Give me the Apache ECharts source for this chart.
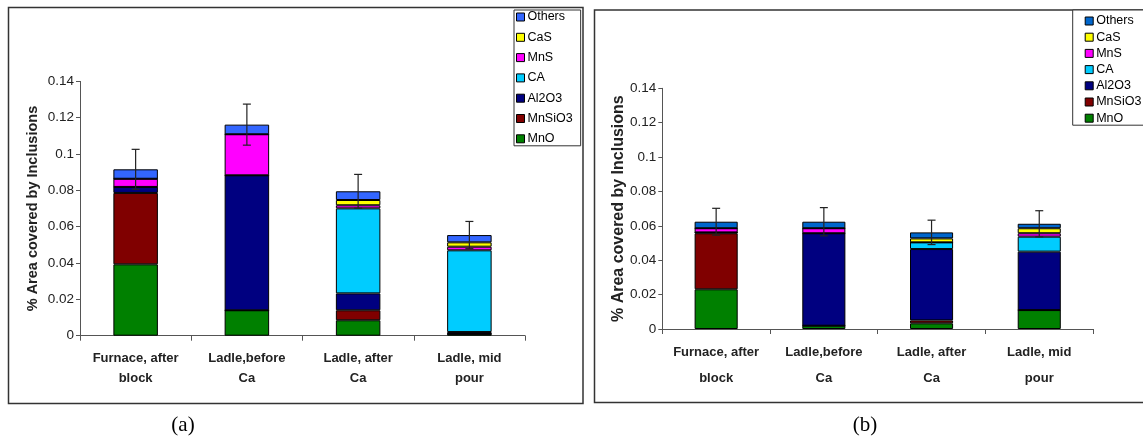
<!DOCTYPE html>
<html>
<head>
<meta charset="utf-8">
<script src="https://cdn.jsdelivr.net/npm/echarts@6/dist/echarts.min.js"></script>
<style>
  html, body { margin: 0; padding: 0; background: #fff; }
  #chart { width: 1143px; height: 442px; }
</style>
</head>
<body>
<div id="chart"></div>
<script>
// Sampling stages (x categories), shared by both panels
const categories = ['Furnace, after\nblock', 'Ladle,before\nCa', 'Ladle, after\nCa', 'Ladle, mid\npour'];
// Inclusion phases, bottom of the stack first
const phases = ['MnO', 'MnSiO3', 'Al2O3', 'CA', 'MnS', 'CaS', 'Others'];
const yTicks = [0, 0.02, 0.04, 0.06, 0.08, 0.1, 0.12, 0.14];

// Panel (a): % area covered by each inclusion type
const aMnO    = [0.0393, 0.0140, 0.0085, 0.0010];
const aMnSiO3 = [0.0393, 0.0000, 0.0055, 0.0000];
const aAl2O3  = [0.0033, 0.0743, 0.0093, 0.0010];
const aCA     = [0.0000, 0.0000, 0.0468, 0.0450];
const aMnS    = [0.0045, 0.0226, 0.0017, 0.0020];
const aCaS    = [0.0000, 0.0000, 0.0029, 0.0024];
const aOthers = [0.0052, 0.0053, 0.0048, 0.0040];
const aError  = [0.0110, 0.0113, 0.0093, 0.0075];

// Panel (b)
const bMnO    = [0.0231, 0.0019, 0.0033, 0.0110];
const bMnSiO3 = [0.0326, 0.0000, 0.0017, 0.0000];
const bAl2O3  = [0.0005, 0.0538, 0.0415, 0.0340];
const bCA     = [0.0000, 0.0000, 0.0039, 0.0087];
const bMnS    = [0.0024, 0.0029, 0.0000, 0.0020];
const bCaS    = [0.0000, 0.0000, 0.0023, 0.0029];
const bOthers = [0.0038, 0.0038, 0.0035, 0.0026];
const bError  = [0.0078, 0.0082, 0.0071, 0.0076];

const panelA = { MnO: aMnO, MnSiO3: aMnSiO3, Al2O3: aAl2O3, CA: aCA, MnS: aMnS, CaS: aCaS, Others: aOthers };
const panelB = { MnO: bMnO, MnSiO3: bMnSiO3, Al2O3: bAl2O3, CA: bCA, MnS: bMnS, CaS: bCaS, Others: bOthers };

const colorsA = { MnO: '#008000', MnSiO3: '#800000', Al2O3: '#000080', CA: '#00CCFF', MnS: '#FF00FF', CaS: '#FFFF00', Others: '#3366FF' };
const colorsB = Object.assign({}, colorsA, { Others: '#0066CC' });

const FONT = '"Liberation Sans", Arial, sans-serif';

function totals(panel) {
  return categories.map((_, i) => phases.reduce((s, p) => s + panel[p][i], 0));
}

function barSeries(panel, colors, idx, stack) {
  return phases.map(p => ({
    name: p,
    type: 'bar',
    stack: stack,
    xAxisIndex: idx,
    yAxisIndex: idx,
    barWidth: '40%',
    itemStyle: { color: colors[p], borderColor: '#000', borderWidth: 1 },
    emphasis: { disabled: true },
    data: panel[p]
  }));
}

function errorRender(params, api) {
  const x = api.value(0);
  const hi = api.coord([x, api.value(1)]);
  const lo = api.coord([x, api.value(2)]);
  const w = 4;
  const style = { stroke: '#222', lineWidth: 1.2 };
  return {
    type: 'group',
    children: [
      { type: 'line', shape: { x1: hi[0], y1: hi[1], x2: lo[0], y2: lo[1] }, style: style },
      { type: 'line', shape: { x1: hi[0] - w, y1: hi[1], x2: hi[0] + w, y2: hi[1] }, style: style },
      { type: 'line', shape: { x1: lo[0] - w, y1: lo[1], x2: lo[0] + w, y2: lo[1] }, style: style }
    ]
  };
}

function errorSeries(panel, err, idx) {
  const t = totals(panel);
  return {
    type: 'custom',
    xAxisIndex: idx,
    yAxisIndex: idx,
    z: 10,
    silent: true,
    renderItem: errorRender,
    encode: { x: 0, y: [1, 2] },
    data: t.map((v, i) => [i, v + err[i], v - err[i]])
  };
}

function xAxis(idx, lineHeight, margin) {
  return {
    type: 'category',
    gridIndex: idx,
    data: categories,
    axisLine: { lineStyle: { color: '#555', width: 1 } },
    axisTick: { show: true, length: 5, lineStyle: { color: '#555' } },
    axisLabel: {
      interval: 0, margin: margin, color: '#222',
      fontFamily: FONT, fontWeight: 'bold', fontSize: 13, lineHeight: lineHeight
    },
    splitLine: { show: false }
  };
}

function yAxis(idx, nameGap, nameSize) {
  return {
    type: 'value',
    gridIndex: idx,
    min: yTicks[0],
    max: yTicks[yTicks.length - 1],
    interval: yTicks[1] - yTicks[0],
    name: '% Area covered by Inclusions',
    nameLocation: 'middle',
    nameGap: nameGap,
    nameTextStyle: { fontFamily: FONT, fontWeight: 'bold', fontSize: nameSize, color: '#222' },
    axisLine: { show: true, lineStyle: { color: '#555', width: 1 } },
    axisTick: { show: true, length: 4, lineStyle: { color: '#555' } },
    axisLabel: {
      margin: 6, color: '#222', fontFamily: FONT, fontSize: 13.5,
      formatter: v => String(+v.toFixed(2))
    },
    splitLine: { show: false }
  };
}

function legend(colors, left, top, gap, padding) {
  return {
    orient: 'vertical',
    left: left,
    top: top,
    itemWidth: 8,
    itemHeight: 8,
    itemGap: gap,
    padding: padding,
    selectedMode: false,
    backgroundColor: '#fff',
    borderColor: '#333',
    borderWidth: 1,
    textStyle: { fontFamily: FONT, fontSize: 12.5, color: '#000', lineHeight: 14, padding: [0, 0, 0, -2] },
    data: phases.slice().reverse().map(p => ({
      name: p,
      icon: 'rect',
      itemStyle: { color: colors[p], borderColor: '#000', borderWidth: 1 }
    }))
  };
}

const chart = echarts.init(document.getElementById('chart'), null, { renderer: 'canvas' });

chart.setOption({
  animation: false,
  backgroundColor: '#fff',
  grid: [
    { left: 80, top: 81.4, width: 445, height: 254.3 },
    { left: 662.3, top: 88.3, width: 430.8, height: 240.7 }
  ],
  xAxis: [xAxis(0, 20, 13), xAxis(1, 26, 10)],
  yAxis: [yAxis(0, 40, 14.5), yAxis(1, 33, 16)],
  legend: [
    legend(colorsA, 514, 10, 6.3, [0, 8, 0, 2]),
    legend(colorsB, 1072.7, 10, 2.2, [4, 20, 0, 12])
  ],
  graphic: [
    { type: 'rect', shape: { x: 8.5, y: 7.5, width: 574.5, height: 396 }, style: { fill: null, stroke: '#333', lineWidth: 1.5 }, z: -1, silent: true },
    { type: 'rect', shape: { x: 594.5, y: 10, width: 570, height: 392.5 }, style: { fill: null, stroke: '#333', lineWidth: 1.5 }, z: -1, silent: true },
    { type: 'text', x: 183, y: 425, style: { text: '(a)', font: '21px "Liberation Serif", "Times New Roman", serif', fill: '#000', textAlign: 'center', textVerticalAlign: 'middle' }, silent: true },
    { type: 'text', x: 865, y: 425, style: { text: '(b)', font: '21px "Liberation Serif", "Times New Roman", serif', fill: '#000', textAlign: 'center', textVerticalAlign: 'middle' }, silent: true }
  ],
  series: [
    ...barSeries(panelA, colorsA, 0, 'a'),
    errorSeries(panelA, aError, 0),
    ...barSeries(panelB, colorsB, 1, 'b'),
    errorSeries(panelB, bError, 1)
  ]
});
</script>
</body>
</html>
